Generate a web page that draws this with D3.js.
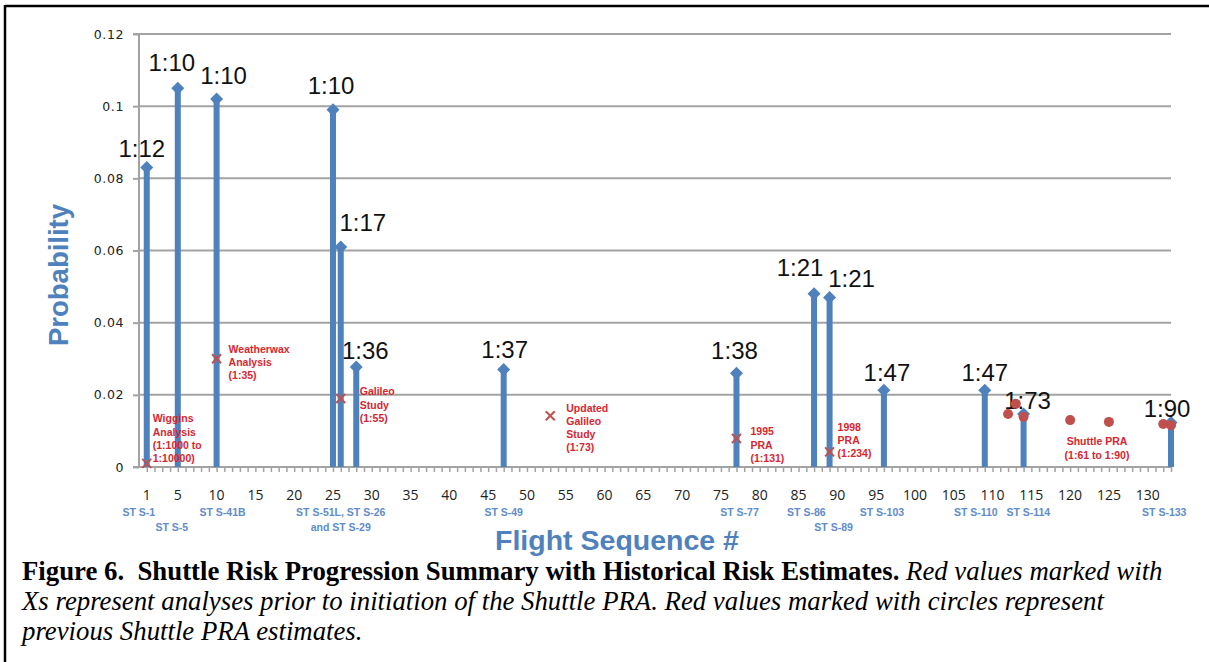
<!DOCTYPE html>
<html>
<head>
<meta charset="utf-8">
<script src="https://cdn.jsdelivr.net/npm/d3@7"></script>
<style>
  html, body { margin: 0; padding: 0; background: #fff; }
  svg { display: block; }
  text { white-space: pre; }
</style>
</head>
<body>
<svg id="chart" width="1209" height="662"></svg>
<script>
// ---------------- DATA ----------------
const flights = [1, 5, 10, 25, 26, 28, 47, 77, 87, 89, 96, 109, 114, 133];
const probabilities = [0.083, 0.105, 0.102, 0.099, 0.061, 0.0277, 0.027, 0.026, 0.048, 0.047, 0.0213, 0.0213, 0.0147, 0.0123];
const riskLabels = ["1:12", "1:10", "1:10", "1:10", "1:17", "1:36", "1:37", "1:38", "1:21", "1:21", "1:47", "1:47", "1:73", "1:90"];

const priorFlights = [1, 10, 26, 53, 77, 89];
const priorValues = [0.001, 0.030, 0.019, 0.0142, 0.0079, 0.0042];
const priorNotes = [
  ["Wiggins", "Analysis", "(1:1000 to", "1:10000)"],
  ["Weatherwax", "Analysis", "(1:35)"],
  ["Galileo", "Study", "(1:55)"],
  ["Updated", "Galileo", "Study", "(1:73)"],
  ["1995", "PRA", "(1:131)"],
  ["1998", "PRA", "(1:234)"]
];

const praFlights = [112, 113, 114, 120, 125, 132, 133];
const praValues = [0.0147, 0.0175, 0.0139, 0.013, 0.0125, 0.0119, 0.0116];
const praNote = ["Shuttle PRA", "(1:61 to 1:90)"];

const xTickValues = [1, 5, 10, 15, 20, 25, 30, 35, 40, 45, 50, 55, 60, 65, 70, 75, 80, 85, 90, 95, 100, 105, 110, 115, 120, 125, 130];
const yTickValues = [0, 0.02, 0.04, 0.06, 0.08, 0.1, 0.12];
const yTickLabels = ["0", "0.02", "0.04", "0.06", "0.08", "0.1", "0.12"];

const stsFlights = [1, 5, 10, 26, 47, 77, 86, 89, 96, 109, 115, 132];
const stsLabels = [["ST S-1"], ["ST S-5"], ["ST S-41B"], ["ST S-51L, ST S-26", "and ST S-29"], ["ST S-49"], ["ST S-77"], ["ST S-86"], ["ST S-89"], ["ST S-103"], ["ST S-110"], ["ST S-114"], ["ST S-133"]];

const xTitle = "Flight Sequence #";
const yTitle = "Probability";

const captionBold = "Figure 6.  Shuttle Risk Progression Summary with Historical Risk Estimates.";
const captionLines = [
  " Red values marked with",
  "Xs represent analyses prior to initiation of the Shuttle PRA. Red values marked with circles represent",
  "previous Shuttle PRA estimates."
];

// ---------------- LAYOUT (positions / styles) ----------------
const labelOffsets = [[-5, -19], [-6, -26], [7, -23], [-2, -24], [22, -24], [9, -17], [1, -20], [-2, -23], [-14, -26], [22, -19], [3, -18], [0, -18], [4, -13], [-4, -14]];
const noteOffsets = [[6, -45], [12, -10], [19, -7], [16, -8], [14, -7], [8, -25]];
const stsRow = [0, 1, 0, 0, 0, 0, 0, 1, 0, 0, 0, 0];
const stsDx = [-8, -6, 6, 0, 0, 3, 0, 4, -2, -9, -3, 1];

const BLUE = "#4f81bd";
const RED = "#c0504d";
const RED_TEXT = "#d8262f";
const GRID = "#a3a3a3";

const svg = d3.select("#chart");

const x = d3.scaleLinear().domain([0, 133]).range([139, 1171]);
const y = d3.scaleLinear().domain([0, 0.12]).range([467, 34]);

// frame
svg.append("line").attr("x1", 5).attr("x2", 1209).attr("y1", 6).attr("y2", 6).attr("stroke", "#000").attr("stroke-width", 2.5);
svg.append("line").attr("x1", 5).attr("x2", 5).attr("y1", 5).attr("y2", 662).attr("stroke", "#000").attr("stroke-width", 2.5);

// gridlines
svg.append("g").selectAll("line").data(yTickValues.filter(v => v > 0)).join("line")
  .attr("x1", x(0)).attr("x2", x(133))
  .attr("y1", d => y(d)).attr("y2", d => y(d))
  .attr("stroke", GRID).attr("stroke-width", 2);

// y axis
const yAxis = d3.axisLeft(y).tickValues(yTickValues).tickSize(6).tickPadding(9)
  .tickFormat((d, i) => yTickLabels[i]);
const gy = svg.append("g").attr("transform", `translate(${x(0)},0)`).call(yAxis);
gy.select(".domain").attr("stroke", GRID).attr("stroke-width", 2).attr("d", `M-6,${y(0.12)}H0V${y(0)}H-6`);
gy.selectAll(".tick line").attr("stroke", GRID).attr("stroke-width", 2);
gy.selectAll(".tick text").attr("font-family", "DejaVu Sans, sans-serif").attr("font-size", 12.5)
  .attr("letter-spacing", 0.6).attr("fill", "#222");

// x axis (minor ticks every flight)
const xAxis = d3.axisBottom(x).tickValues(d3.range(1, 134)).tickSize(5).tickFormat("");
const gx = svg.append("g").attr("transform", `translate(0,${y(0)})`).call(xAxis);
gx.select(".domain").attr("stroke", GRID).attr("stroke-width", 2).attr("d", `M${x(0)},0H${x(133)}`);
gx.selectAll(".tick line").attr("stroke", GRID).attr("stroke-width", 1.5);

// x tick labels
svg.append("g").selectAll("text").data(xTickValues).join("text")
  .attr("x", d => x(d)).attr("y", 494)
  .attr("text-anchor", "middle").attr("dominant-baseline", "central")
  .attr("font-family", "Open Sans, sans-serif").attr("font-size", 14).attr("fill", "#222")
  .text(d => d);

// STS labels
const sts = svg.append("g");
stsLabels.forEach((lines, i) => {
  lines.forEach((t, j) => {
    sts.append("text")
      .attr("x", x(stsFlights[i]) + stsDx[i])
      .attr("y", 512 + (stsRow[i] + j) * 14.5)
      .attr("text-anchor", "middle").attr("dominant-baseline", "central")
      .attr("font-family", "Liberation Sans, Arial, sans-serif").attr("font-weight", "bold")
      .attr("font-size", 10.5).attr("fill", "#5f8ccb")
      .text(t);
  });
});

// axis titles
svg.append("text").attr("x", 617).attr("y", 540)
  .attr("text-anchor", "middle").attr("dominant-baseline", "central")
  .attr("font-family", "Liberation Sans, Arial, sans-serif").attr("font-weight", "bold")
  .attr("font-size", 28.5).attr("fill", BLUE).text(xTitle);
svg.append("text").attr("transform", "translate(58,275) rotate(-90)")
  .attr("text-anchor", "middle").attr("dominant-baseline", "central")
  .attr("font-family", "Liberation Sans, Arial, sans-serif").attr("font-weight", "bold")
  .attr("font-size", 27.5).attr("fill", BLUE).text(yTitle);

// stems
const data = flights.map((f, i) => ({ f, v: probabilities[i], label: riskLabels[i], off: labelOffsets[i] }));
svg.append("g").selectAll("line").data(data).join("line")
  .attr("x1", d => x(d.f)).attr("x2", d => x(d.f))
  .attr("y1", y(0)).attr("y2", d => y(d.v))
  .attr("stroke", BLUE).attr("stroke-width", 6);
svg.append("g").selectAll("path").data(data).join("path")
  .attr("d", d => { const cx = x(d.f), cy = y(d.v); return `M${cx},${cy - 6.5}L${cx + 6.5},${cy}L${cx},${cy + 6.5}L${cx - 6.5},${cy}Z`; })
  .attr("fill", BLUE);

// risk labels
svg.append("g").selectAll("text").data(data).join("text")
  .attr("x", d => x(d.f) + d.off[0]).attr("y", d => y(d.v) + d.off[1])
  .attr("text-anchor", "middle").attr("dominant-baseline", "central")
  .attr("font-family", "Liberation Sans, Arial, sans-serif").attr("font-size", 24).attr("fill", "#111")
  .text(d => d.label);

// PRA circles
svg.append("g").selectAll("circle").data(praFlights.map((f, i) => ({ f, v: praValues[i] }))).join("circle")
  .attr("cx", d => x(d.f)).attr("cy", d => y(d.v)).attr("r", 5)
  .attr("fill", RED);
praNote.forEach((t, j) => {
  svg.append("text").attr("x", 1097).attr("y", 441 + j * 13.5)
    .attr("text-anchor", "middle").attr("dominant-baseline", "central")
    .attr("font-family", "Liberation Sans, Arial, sans-serif").attr("font-weight", "bold")
    .attr("font-size", 10.5).attr("fill", RED_TEXT).text(t);
});

// prior analyses X marks
const prior = priorFlights.map((f, i) => ({ f, v: priorValues[i], note: priorNotes[i], off: noteOffsets[i] }));
const xm = svg.append("g");
prior.forEach(d => {
  const cx = x(d.f), cy = y(d.v), s = 4.5;
  xm.append("path").attr("d", `M${cx - s},${cy - s}L${cx + s},${cy + s}M${cx - s},${cy + s}L${cx + s},${cy - s}`)
    .attr("stroke", RED).attr("stroke-width", 2);
  d.note.forEach((t, j) => {
    xm.append("text").attr("x", cx + d.off[0]).attr("y", cy + d.off[1] + j * 13.2)
      .attr("dominant-baseline", "central")
      .attr("font-family", "Liberation Sans, Arial, sans-serif").attr("font-weight", "bold")
      .attr("font-size", 10.5).attr("fill", RED_TEXT).text(t);
  });
});

// caption
const cap = svg.append("g").attr("font-family", "Liberation Serif, Times New Roman, serif").attr("fill", "#000");
const capSize = 21;
const l1 = cap.append("text").attr("x", 22).attr("y", 580).attr("font-size", capSize);
l1.append("tspan").attr("font-weight", "bold").text(captionBold);
l1.append("tspan").attr("font-style", "italic").text(captionLines[0]);
cap.append("text").attr("x", 22).attr("y", 610).attr("font-size", capSize).attr("font-style", "italic").text(captionLines[1]);
cap.append("text").attr("x", 22).attr("y", 640).attr("font-size", capSize).attr("font-style", "italic").text(captionLines[2]);
// fit caption line 1 to reference width
const w1 = l1.node().getComputedTextLength();
const target1 = 1163 - 22;
if (w1 > 0) {
  const k = target1 / w1;
  cap.selectAll("text").attr("font-size", capSize * k);
}
</script>
</body>
</html>
